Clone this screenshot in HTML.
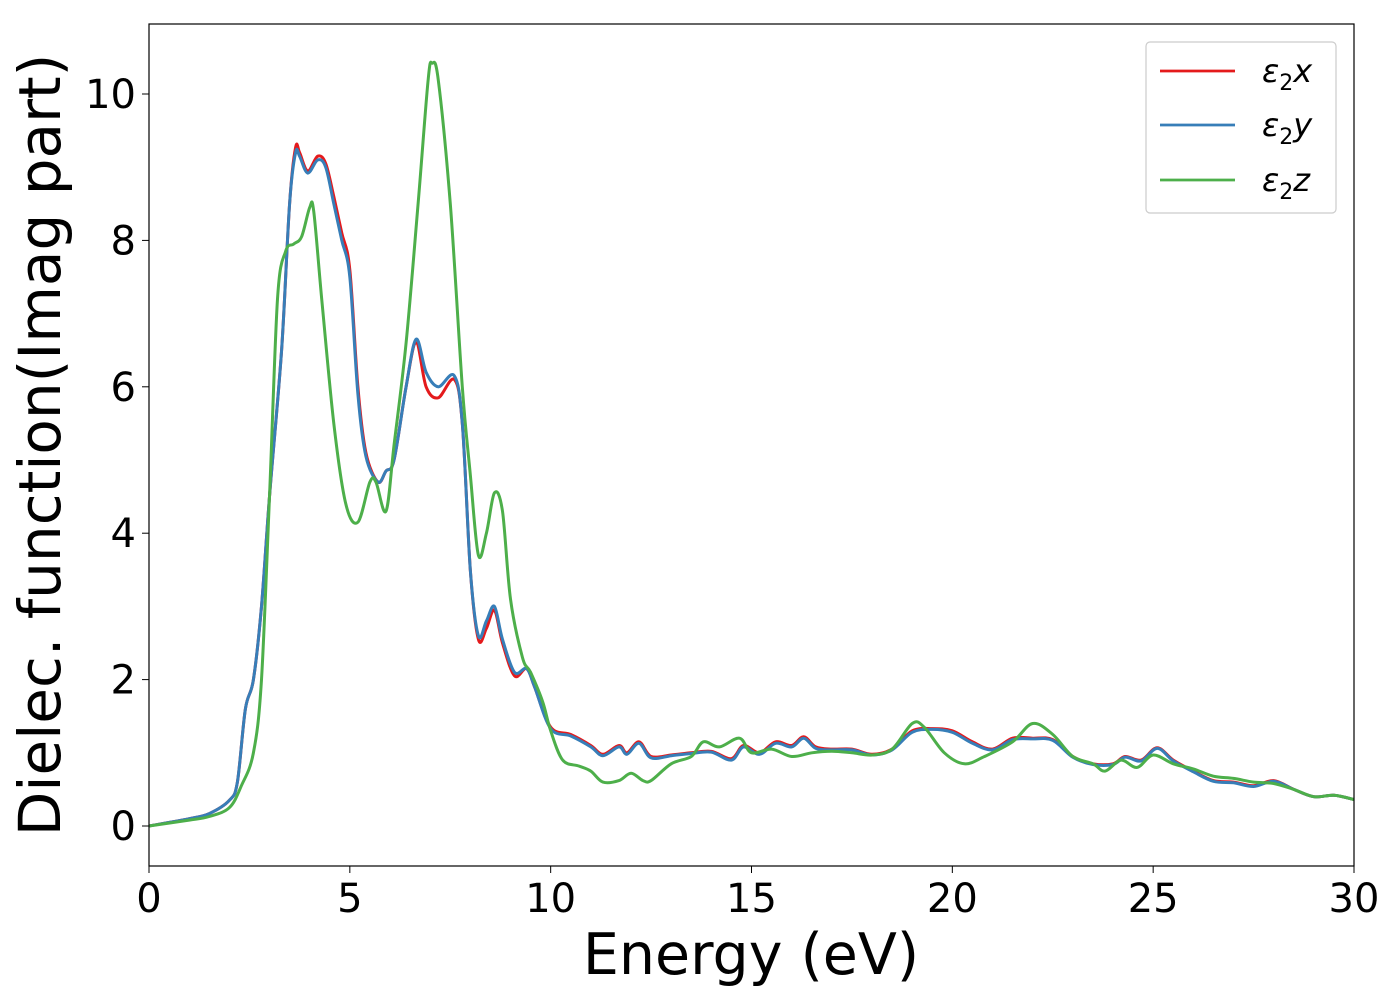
<!DOCTYPE html>
<html><head><meta charset="utf-8"><style>
body{margin:0;background:#fff;}
svg{display:block;font-family:"DejaVu Sans","Liberation Sans",sans-serif;}
</style></head><body>
<svg id="chart" width="1400" height="1000" viewBox="0 0 1400 1000">
<rect x="0" y="0" width="1400" height="1000" fill="#fff"/>
<g id="series"></g>
<rect x="149" y="24" width="1205" height="842" fill="none" stroke="#000" stroke-width="1.2"/>
<g id="xticks"></g>
<g id="yticks"></g>
<text x="751" y="974" font-size="57" text-anchor="middle">Energy (eV)</text>
<text transform="translate(60,445) rotate(-90)" font-size="58" text-anchor="middle">Dielec. function(Imag part)</text>
<g>
<rect x="1146" y="42" width="190" height="171" rx="4" fill="#fff" stroke="#ccc" stroke-width="1.2"/>
<g><line x1="1160" y1="71" x2="1235" y2="71" stroke="#e41a1c" stroke-width="2.8"/><text x="1262" y="82" font-size="32" font-style="italic">ε<tspan font-size="22" dy="8" font-style="normal">2</tspan><tspan dy="-8">x</tspan></text></g>
<g><line x1="1160" y1="125" x2="1235" y2="125" stroke="#377eb8" stroke-width="2.8"/><text x="1262" y="136" font-size="32" font-style="italic">ε<tspan font-size="22" dy="8" font-style="normal">2</tspan><tspan dy="-8">y</tspan></text></g>
<g><line x1="1160" y1="180" x2="1235" y2="180" stroke="#4daf4a" stroke-width="2.8"/><text x="1262" y="191" font-size="32" font-style="italic">ε<tspan font-size="22" dy="8" font-style="normal">2</tspan><tspan dy="-8">z</tspan></text></g>
</g>
</svg>
<script>
const energyX=[0,1,1.5,2,2.2,2.4,2.6,2.8,3.0,3.3,3.5,3.65,3.75,3.95,4.2,4.4,4.6,4.8,5.0,5.2,5.4,5.7,5.9,6.1,6.4,6.65,6.9,7.2,7.6,7.8,8.0,8.2,8.4,8.6,8.8,9.1,9.4,9.6,10,10.5,11,11.3,11.7,11.9,12.2,12.5,13,13.5,14,14.5,14.8,15.2,15.6,16,16.3,16.6,17,17.5,18,18.5,19,19.5,20,20.5,21,21.5,22,22.5,23,23.5,24,24.3,24.7,25.1,25.5,26,26.5,27,27.5,28,28.5,29,29.5,30];
const epsX=[0,0.1,0.17,0.35,0.6,1.6,2.0,3.0,4.5,6.5,8.5,9.27,9.2,8.95,9.15,9.05,8.6,8.1,7.6,6.0,5.1,4.7,4.85,5.0,6.0,6.6,6.0,5.85,6.1,5.5,3.5,2.55,2.7,2.95,2.5,2.05,2.15,1.9,1.35,1.25,1.1,0.98,1.1,1.0,1.15,0.95,0.97,1.0,1.02,0.92,1.1,1.0,1.15,1.1,1.22,1.08,1.05,1.05,0.98,1.05,1.3,1.33,1.3,1.15,1.05,1.2,1.2,1.18,0.95,0.85,0.85,0.95,0.9,1.07,0.9,0.75,0.62,0.6,0.55,0.62,0.5,0.4,0.42,0.36];
const epsY=[0,0.1,0.17,0.35,0.6,1.6,2.0,3.0,4.5,6.5,8.5,9.2,9.15,8.92,9.1,9.0,8.5,8.0,7.5,5.9,5.05,4.7,4.85,5.0,6.0,6.65,6.2,6.0,6.15,5.5,3.5,2.6,2.8,3.0,2.55,2.1,2.15,1.9,1.33,1.23,1.08,0.96,1.08,0.98,1.13,0.93,0.96,0.99,1.01,0.9,1.08,0.98,1.13,1.08,1.2,1.06,1.04,1.04,0.97,1.04,1.28,1.32,1.28,1.13,1.04,1.18,1.19,1.17,0.94,0.84,0.84,0.94,0.89,1.06,0.89,0.74,0.61,0.59,0.54,0.61,0.5,0.4,0.42,0.36];
const energyZ=[0,1,1.5,2,2.3,2.6,2.8,3.0,3.2,3.4,3.6,3.8,4.0,4.1,4.3,4.6,4.9,5.2,5.5,5.65,5.9,6.1,6.4,6.7,6.95,7.05,7.2,7.5,7.8,8.0,8.2,8.4,8.6,8.8,9.0,9.3,9.5,9.8,10,10.3,10.7,11,11.3,11.7,12.0,12.3,12.5,13,13.5,13.8,14.2,14.7,15,15.5,16,16.5,17,17.5,18,18.5,19,19.3,19.8,20.3,20.8,21.5,22,22.5,23,23.5,23.8,24.2,24.6,25,25.5,26,26.5,27,27.5,28,28.5,29,29.5,30];
const epsZ=[0,0.08,0.13,0.25,0.55,1.0,2.0,4.5,7.2,7.85,7.95,8.05,8.45,8.4,7.2,5.5,4.4,4.15,4.7,4.7,4.3,5.2,6.6,8.5,10.2,10.42,10.2,8.5,6.0,4.8,3.7,4.0,4.55,4.3,3.1,2.3,2.1,1.7,1.3,0.9,0.82,0.75,0.6,0.62,0.72,0.62,0.62,0.85,0.95,1.15,1.08,1.2,1.0,1.05,0.95,1.0,1.02,1.0,0.97,1.05,1.4,1.35,1.0,0.85,0.95,1.15,1.4,1.25,0.95,0.85,0.75,0.9,0.8,0.97,0.85,0.78,0.68,0.65,0.6,0.58,0.5,0.4,0.42,0.36];
const xTickLabels=[0,5,10,15,20,25,30];
const yTickLabels=[0,2,4,6,8,10];

const X0=149,X1=1354,Y0=826,PerUnit=73.2;
const xs=e=>X0+e*(X1-X0)/30;
const ys=v=>Y0-v*PerUnit;
const NS='http://www.w3.org/2000/svg';
function pathFor(ex,vals){
  const p=ex.map((e,i)=>[xs(e),ys(vals[i])]);
  let d='M'+p[0][0].toFixed(1)+','+p[0][1].toFixed(1);
  for(let i=0;i<p.length-1;i++){
    const a=p[Math.max(0,i-1)],b=p[i],c=p[i+1],n=p[Math.min(p.length-1,i+2)];
    const c1=[b[0]+(c[0]-a[0])/6,b[1]+(c[1]-a[1])/6];
    const c2=[c[0]-(n[0]-b[0])/6,c[1]-(n[1]-b[1])/6];
    d+='C'+c1[0].toFixed(1)+','+c1[1].toFixed(1)+' '+c2[0].toFixed(1)+','+c2[1].toFixed(1)+' '+c[0].toFixed(1)+','+c[1].toFixed(1);
  }
  return d;
}
const g=document.getElementById('series');
[[energyX,epsX,'#e41a1c','series-eps2-x'],[energyX,epsY,'#377eb8','series-eps2-y'],[energyZ,epsZ,'#4daf4a','series-eps2-z']].forEach(s=>{
  const el=document.createElementNS(NS,'path');
  el.setAttribute('d',pathFor(s[0],s[1]));
  el.setAttribute('fill','none');el.setAttribute('stroke',s[2]);el.setAttribute('stroke-width','3');
  
  
  g.appendChild(el);
});
const gx=document.getElementById('xticks');
xTickLabels.forEach(t=>{
  const l=document.createElementNS(NS,'line');
  l.setAttribute('x1',xs(t));l.setAttribute('x2',xs(t));l.setAttribute('y1',866);l.setAttribute('y2',873);l.setAttribute('stroke','#000');
  
  
  gx.appendChild(l);
  const tx=document.createElementNS(NS,'text');
  tx.setAttribute('x',xs(t));tx.setAttribute('y',912);tx.setAttribute('font-size','40');tx.setAttribute('text-anchor','middle');
  tx.textContent=t;
  
  
  gx.appendChild(tx);
});
const gy=document.getElementById('yticks');
yTickLabels.forEach(t=>{
  const l=document.createElementNS(NS,'line');
  l.setAttribute('x1',142);l.setAttribute('x2',149);l.setAttribute('y1',ys(t));l.setAttribute('y2',ys(t));l.setAttribute('stroke','#000');
  
  
  gy.appendChild(l);
  const tx=document.createElementNS(NS,'text');
  tx.setAttribute('x',136);tx.setAttribute('y',ys(t)+14);tx.setAttribute('font-size','40');tx.setAttribute('text-anchor','end');
  tx.textContent=t;
  
  
  gy.appendChild(tx);
});
</script>
</body></html>
